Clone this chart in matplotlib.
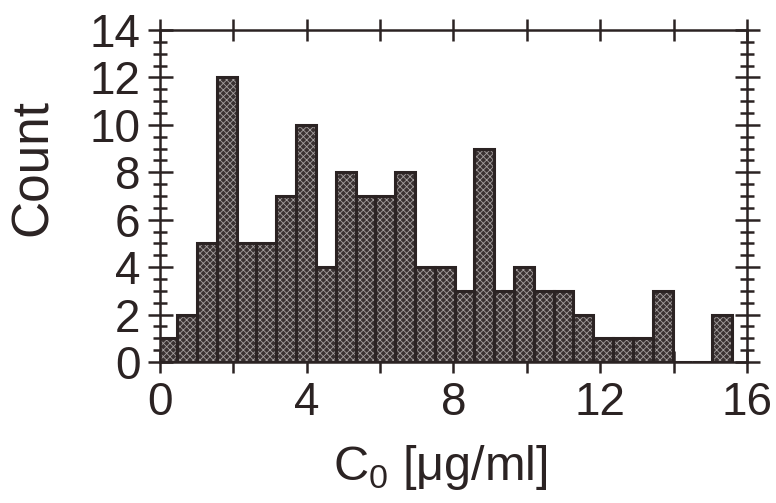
import numpy as np
import matplotlib
matplotlib.use("Agg")
import matplotlib.pyplot as plt
from matplotlib.ticker import MultipleLocator

# ---- data ----
bin_start = -0.07
bin_width = 0.54
counts = [1, 2, 5, 12, 5, 5, 7, 10, 4, 8, 7, 7, 8, 4, 4,
          3, 9, 3, 4, 3, 3, 2, 1, 1, 1, 3, 0, 0, 2]
x_ticklabels = ["0", "4", "8", "12", "16"]
x_tickvalues = [0, 4, 8, 12, 16]
y_tickvalues = [0, 2, 4, 6, 8, 10, 12, 14]
xlabel = "C$_\\mathregular{0}$ [μg/ml]"
ylabel = "Count"

ink = "#2b2323"
plt.rcParams['font.family'] = ['Liberation Sans', 'DejaVu Sans']
plt.rcParams['hatch.linewidth'] = 0.6

W, H = 776, 503
fig = plt.figure(figsize=(W / 100, H / 100), dpi=100)
ax = fig.add_axes([160 / W, 1 - 362 / H, (747 - 160) / W, (362 - 30) / H])

edges = bin_start + bin_width * np.arange(len(counts) + 1)
lefts = edges[:-1]
widths = np.diff(edges)
# textured fill
ax.bar(lefts, counts, width=widths, align='edge', facecolor='#3a3232',
       edgecolor='#a49e9e', hatch='xxxxx', linewidth=0, zorder=2)
# outlines
ax.bar(lefts, counts, width=widths, align='edge', facecolor='none',
       edgecolor=ink, linewidth=2.2, zorder=3)

ax.set_xlim(0, 16)
ax.set_ylim(0, 14)

ax.set_xticks(x_tickvalues)
ax.set_xticklabels(x_ticklabels)
ax.xaxis.set_minor_locator(MultipleLocator(2))
ax.set_yticks(y_tickvalues)
ax.yaxis.set_minor_locator(MultipleLocator(0.5))

for s in ax.spines.values():
    s.set_color(ink)
    s.set_linewidth(1.8)

ax.tick_params(axis='x', which='both', direction='inout', length=16, width=1.8,
               color=ink, top=True, bottom=True, labelsize=33, labelcolor=ink, pad=6)
ax.tick_params(axis='y', which='major', direction='inout', length=18, width=1.8,
               color=ink, left=True, right=True, labelsize=33, labelcolor=ink, pad=5)
ax.tick_params(axis='y', which='minor', direction='inout', length=10, width=1.8,
               color=ink, left=True, right=True)

fig.text(440 / W, 1 - 468 / H, xlabel, fontsize=35, color=ink,
         ha='center', va='center')
fig.text(33 / W, 1 - 168 / H, ylabel, fontsize=37, color=ink,
         ha='center', va='center', rotation=90)

fig.savefig("out.png", dpi=100, facecolor='white')
